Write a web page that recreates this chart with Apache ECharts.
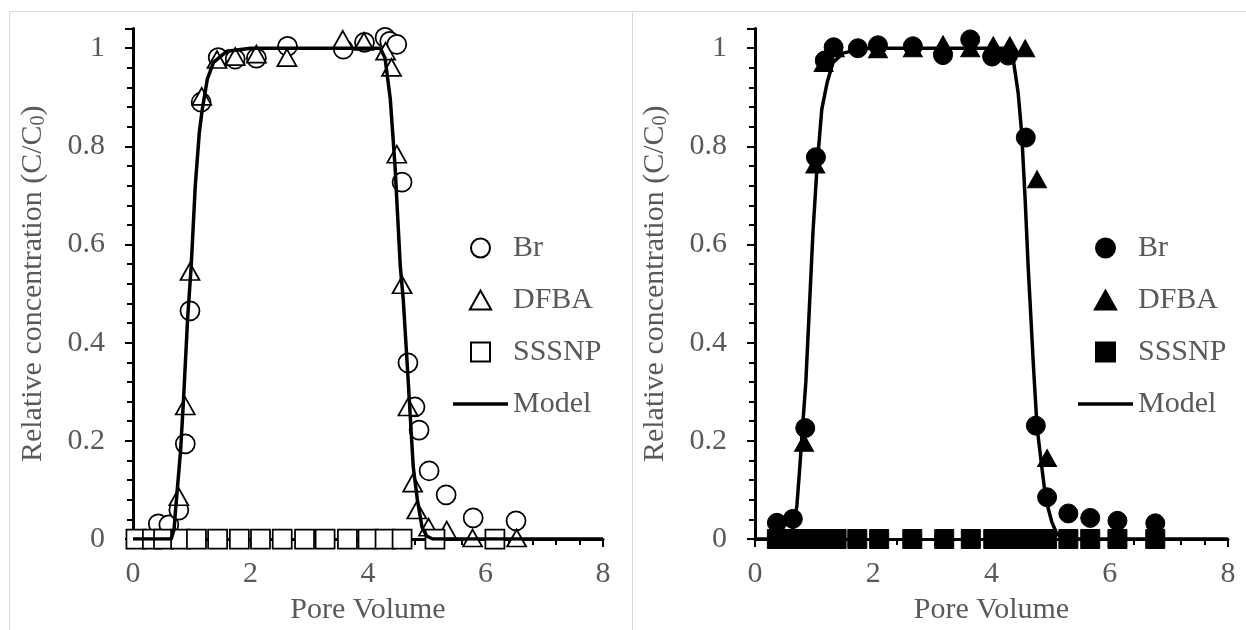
<!DOCTYPE html>
<html>
<head>
<meta charset="utf-8">
<script src="https://cdn.jsdelivr.net/npm/echarts@6/dist/echarts.min.js"></script>
<style>
  html, body { margin: 0; padding: 0; background: #fff; width: 1246px; height: 630px; overflow: hidden; }
  #left { position: absolute; left: 0; top: 0; width: 640px; height: 630px; }
  #right { position: absolute; left: 623px; top: 0; width: 623px; height: 630px; }
</style>
</head>
<body>
<div id="left"></div>
<div id="right"></div>
<script>
// Breakthrough curves: relative concentration vs. pore volume
const seriesNames = ['Br', 'DFBA', 'SSSNP', 'Model'];
const xRange = [0, 8];
const xStep = 2;
const yRange = [0, 1.04];
const yStep = 0.2;

// Column 1 (open symbols)
const brLeft = [[0.43,0.031],[0.61,0.029],[0.78,0.059],[0.89,0.194],[0.97,0.465],[1.16,0.89],[1.45,0.981],[1.74,0.978],[2.10,0.98],[2.63,1.004],[3.58,0.998],[3.94,1.012],[4.29,1.022],[4.37,1.014],[4.49,1.008],[4.58,0.727],[4.68,0.359],[4.80,0.269],[4.87,0.222],[5.04,0.139],[5.33,0.090],[5.79,0.043],[6.52,0.037]];
const dfbaLeft = [[0.78,0.086],[0.89,0.271],[0.97,0.545],[1.17,0.902],[1.43,0.977],[1.74,0.983],[2.10,0.988],[2.62,0.981],[3.57,1.018],[3.93,1.014],[4.30,0.994],[4.40,0.961],[4.49,0.784],[4.58,0.518],[4.68,0.269],[4.76,0.114],[4.83,0.059],[5.03,0.024],[5.34,0.018],[5.78,0.002],[6.53,0.002]];
const sssnpLeft = [[0.05,0],[0.33,0],[0.52,0],[0.81,0],[1.08,0],[1.44,0],[1.81,0],[2.17,0],[2.54,0],[2.92,0],[3.27,0],[3.65,0],[4.00,0],[4.29,0],[4.58,0],[5.14,0],[6.16,0]];
const modelLeft = [[0,0],[0.65,0],[0.70,0.02],[0.72,0.053],[0.81,0.18],[0.86,0.284],[0.93,0.45],[0.99,0.555],[1.06,0.72],[1.13,0.83],[1.18,0.876],[1.265,0.937],[1.37,0.971],[1.6,0.994],[2.0,1.0],[4.21,1.0],[4.29,0.98],[4.38,0.896],[4.46,0.76],[4.55,0.555],[4.60,0.488],[4.67,0.351],[4.72,0.249],[4.77,0.147],[4.84,0.08],[4.92,0.024],[5.0,0.006],[5.1,0],[8,0]];

// Column 2 (filled symbols)
const brRight = [[0.37,0.033],[0.64,0.041],[0.85,0.226],[1.03,0.778],[1.18,0.975],[1.33,1.002],[1.74,1.0],[2.08,1.006],[2.67,1.004],[3.18,0.986],[3.64,1.018],[4.01,0.983],[4.28,0.985],[4.58,0.818],[4.75,0.231],[4.94,0.085],[5.30,0.052],[5.67,0.043],[6.13,0.037],[6.77,0.032]];
const dfbaRight = [[0.83,0.196],[1.02,0.763],[1.16,0.97],[1.35,1.0],[2.08,0.998],[2.67,1.0],[3.18,1.008],[3.64,1.0],[4.03,1.006],[4.31,1.006],[4.57,1.0],[4.77,0.733],[4.94,0.165]];
const sssnpRight = [[0.37,0],[0.64,0],[0.85,0],[1.03,0],[1.18,0],[1.38,0],[1.73,0],[2.10,0],[2.66,0],[3.20,0],[3.65,0],[4.03,0],[4.28,0],[4.57,0],[4.75,0],[4.94,0],[5.30,0],[5.67,0],[6.13,0],[6.77,0]];
const modelRight = [[0,0],[0.55,0],[0.62,0.01],[0.68,0.04],[0.71,0.07],[0.76,0.15],[0.81,0.237],[0.86,0.32],[0.91,0.447],[0.98,0.624],[1.05,0.76],[1.13,0.876],[1.22,0.93],[1.32,0.971],[1.49,0.99],[1.8,0.999],[2.0,1.0],[4.28,1.0],[4.33,0.99],[4.37,0.975],[4.45,0.91],[4.51,0.828],[4.57,0.69],[4.62,0.555],[4.65,0.488],[4.71,0.351],[4.77,0.229],[4.85,0.147],[4.92,0.08],[5.02,0.035],[5.10,0.012],[5.2,0],[8,0]];

const FONT = "'Liberation Serif', Tinos, 'Times New Roman', 'DejaVu Serif', serif";
const TEXT = '#595959';

// Legend glyphs that keep their proportions inside the wide legend slot
const ICON_TRIANGLE = 'path://M0,17L9.5,0L19,17Z';
const ICON_SQUARE = 'path://M0,0L19,0L19,19L0,19Z';
const ICON_LINE = 'path://M0,0L55,0L55,3.5L0,3.5Z';

function yLabel(v) {
  const k = v / yStep;
  if (Math.abs(k - Math.round(k)) > 1e-6) return '';
  return String(+v.toFixed(1));
}

function buildOption(p) {
  const markerStyle = p.filled
    ? { color: '#000', borderColor: '#000', borderWidth: 1, opacity: 1 }
    : { color: '#fff', borderColor: '#000', borderWidth: 1.75, opacity: 1 };
  const mk = (name, symbol, size, data) => ({
    name, type: 'scatter', data, symbol, symbolSize: size, silent: true,
    itemStyle: markerStyle,
    emphasis: { disabled: true }
  });
  const tickStyle = { color: '#000', width: 2 };
  const axisCommon = {
    type: 'value',
    axisLine: { show: true, onZero: false, lineStyle: { color: '#000', width: 3 } },
    axisTick: { show: true, inside: false, length: 8, lineStyle: tickStyle },
    minorTick: { show: true, splitNumber: 5, length: 6, lineStyle: tickStyle },
    splitLine: { show: false }, minorSplitLine: { show: false }
  };
  return {
    animation: false,
    backgroundColor: 'transparent',
    textStyle: { fontFamily: FONT },
    graphic: [{
      type: 'rect', silent: true, z: -10,
      shape: { x: p.frameX, y: 11.5, width: p.frameW, height: 700 },
      style: { fill: 'none', stroke: '#d9d9d9', lineWidth: 1 }
    }],
    grid: { left: p.gridLeft, width: p.gridWidth, top: 28.6, height: 510.4, outerBoundsMode: 'none', containLabel: false },
    xAxis: Object.assign({}, axisCommon, {
      min: xRange[0], max: xRange[1], interval: xStep,
      axisLabel: { color: TEXT, fontSize: 30, fontFamily: FONT, margin: 20 },
      name: 'Pore Volume', nameLocation: 'middle', nameGap: 56,
      nameTextStyle: { color: TEXT, fontSize: 30, fontFamily: FONT }
    }),
    yAxis: Object.assign({}, axisCommon, {
      min: yRange[0], max: yRange[1], interval: yStep,
      axisLabel: { color: TEXT, fontSize: 30, fontFamily: FONT, margin: 28, formatter: yLabel },
      name: 'Relative concentration (C/C{s|0})', nameLocation: 'middle', nameGap: 84, nameRotate: 90,
      nameTextStyle: {
        color: TEXT, fontSize: 30, fontFamily: FONT,
        rich: { s: { color: TEXT, fontSize: 20, fontFamily: FONT, padding: [12, 0, 0, 0] } }
      }
    }),
    legend: {
      orient: 'vertical', left: p.legendLeft, top: 233, padding: 0,
      itemWidth: 55, itemHeight: 19, itemGap: 22, selectedMode: false,
      symbolKeepAspect: true,
      data: [
        { name: seriesNames[0], icon: 'circle' },
        { name: seriesNames[1], icon: ICON_TRIANGLE },
        { name: seriesNames[2], icon: ICON_SQUARE },
        { name: seriesNames[3], icon: ICON_LINE, itemStyle: { color: '#000', borderWidth: 0 } }
      ],
      textStyle: { color: TEXT, fontSize: 30, fontFamily: FONT }
    },
    series: [
      mk(seriesNames[0], 'circle', 19, p.br),
      mk(seriesNames[1], 'triangle', [19, 17], p.dfba),
      mk(seriesNames[2], 'rect', 19, p.sssnp),
      {
        name: seriesNames[3], type: 'line', data: p.model, symbol: 'none', showSymbol: false, silent: true,
        lineStyle: { color: '#000', width: 3.5 }, itemStyle: { color: '#000' },
        emphasis: { disabled: true }
      }
    ]
  };
}

const leftChart = echarts.init(document.getElementById('left'), null, { renderer: 'canvas' });
leftChart.setOption(buildOption({
  filled: false, frameX: 9.5, frameW: 623, gridLeft: 133, gridWidth: 470, legendLeft: 453,
  br: brLeft, dfba: dfbaLeft, sssnp: sssnpLeft, model: modelLeft
}));

const rightChart = echarts.init(document.getElementById('right'), null, { renderer: 'canvas' });
rightChart.setOption(buildOption({
  filled: true, frameX: 9.5, frameW: 700, gridLeft: 132, gridWidth: 473, legendLeft: 455,
  br: brRight, dfba: dfbaRight, sssnp: sssnpRight, model: modelRight
}));
</script>
</body>
</html>
